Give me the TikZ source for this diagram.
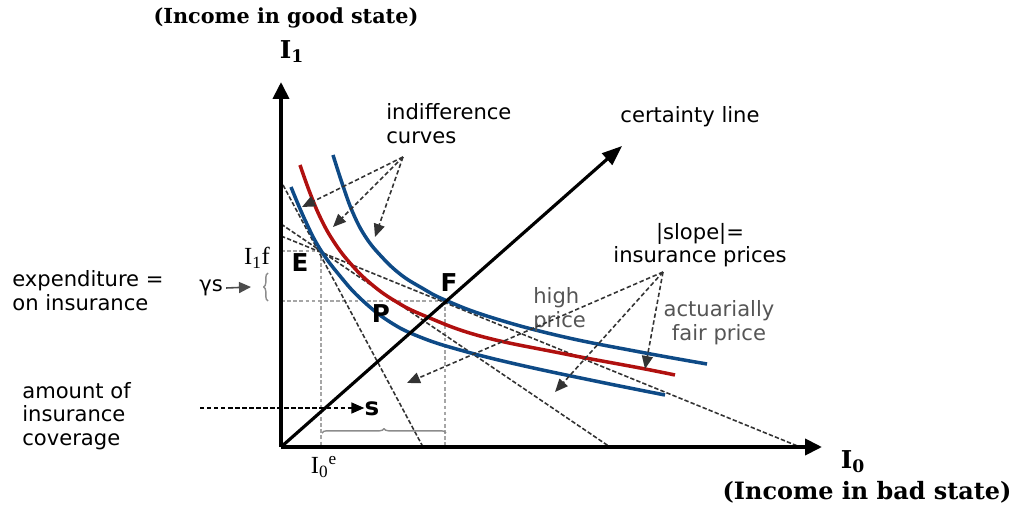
\documentclass[tikz,border=0pt]{standalone}
\usepackage{fontspec}
\setmainfont{DejaVu Sans}
\newfontfamily\slabfont{DejaVu Serif}
\newfontfamily\romanfont{Liberation Serif}
\usetikzlibrary{arrows.meta, decorations.pathreplacing}
\definecolor{cblue}{HTML}{0E4A86}
\definecolor{cred}{HTML}{B0100F}
\definecolor{cgrey}{HTML}{555555}
\definecolor{cline}{HTML}{333333}
\tikzset{
  every picture/.style={line join=round},
  axisline/.style={line width=2.2pt, -{Triangle[length=3.4mm, width=3.2mm]}},
  certline/.style={line width=1.8pt, -{Triangle[length=4mm, width=3mm]}},
  curve/.style={draw=#1, line width=2pt, smooth, tension=0.7},
  budget/.style={draw=cline, line width=0.9pt, dash pattern=on 2.5pt off 1.2pt},
  guide/.style={draw=black!35, line width=0.8pt, dash pattern=on 2pt off 1.5pt},
  pointer/.style={draw=cline, line width=0.9pt, dash pattern=on 2.5pt off 1.5pt, -{Triangle[length=2.6mm, width=2.2mm]}},
  annot/.style={font=\fontsize{12}{13.5}\selectfont, align=left, inner sep=0pt},
  greyannot/.style={annot, text=cgrey},
  ptlabel/.style={font=\bfseries\fontsize{14}{14}\selectfont, inner sep=0pt},
  axtitle/.style={font=\slabfont\bfseries\fontsize{#1}{#1}\selectfont, inner sep=0pt},
  bracket/.style={draw=black!45, line width=0.8pt, decorate, decoration={brace, amplitude=#1}},
}
\begin{document}
\begin{tikzpicture}[x=0.02cm, y=-0.02cm]
  \useasboundingbox (0,0) rectangle (1020,506);
  % key points
  \coordinate (O) at (281,447);
  \coordinate (ytop) at (281,82);
  \coordinate (xend) at (822,447);
  \coordinate (cend) at (622,146);
  \coordinate (E) at (321,251);
  \coordinate (F) at (445,301);

  % guide lines
  \draw[guide] (O |- E) -- (E);
  \draw[guide] (E) -- (E |- O);
  \draw[guide] (O |- F) -- (F);
  \draw[guide] (F) -- (F |- O);

  % budget lines
  \draw[budget] (283,185) -- (423,447);
  \draw[budget] (281,224) -- (610,447);
  \draw[budget] (281,236) -- (800,447);

  % indifference curves
  \draw[curve=cblue] plot coordinates {(291,187) (305,220) (320,249) (340,276) (362,300) (390,322) (420,337) (460,350) (520,365) (600,382) (665,395)};
  \draw[curve=cred] plot coordinates {(300,165) (310,193) (321,219) (334,242) (350,263) (370,283) (395,301) (425,316) (480,336) (560,353) (640,368) (675,375)};
  \draw[curve=cblue] plot coordinates {(333,155) (343,186) (353,213) (365,236) (380,255) (400,274) (422,288) (445,300) (490,317) (560,336) (640,352) (707,364)};

  % axes and certainty line
  \draw[axisline] (O) -- (ytop);
  \draw[axisline] (O) -- (xend);
  \draw[certline] (O) -- (cend);

  % axis titles
  \node[axtitle=11.8] (ytitle) at (286,18) {(Income in good state)};
  \node[font=\slabfont\bfseries\fontsize{14}{14}\selectfont, inner sep=0pt] (ylab) at (292,52) {I\textsubscript{1}};
  \node[font=\slabfont\bfseries\fontsize{14}{14}\selectfont, inner sep=0pt] (xlab) at (853,462) {I\textsubscript{0}};
  \node[axtitle=13.6] (xtitle) at (867,492) {(Income in bad state)};

  % point labels
  \node[ptlabel] (Elab) at (300,263) {E};
  \node[ptlabel] (Flab) at (449,283) {F};
  \node[ptlabel] (Plab) at (381,314) {P};
  \node[ptlabel] (slab) at (372,409) {s};
  \node[font=\romanfont\fontsize{14}{14}\selectfont, inner sep=0pt] (Ielab) at (324,467) {I\textsubscript{0}\textsuperscript{e}};
  \node[font=\romanfont\fontsize{14}{14}\selectfont, inner sep=0pt] (Iflab) at (257,258) {I\textsubscript{1}f};

  % annotations
  \node[annot, anchor=west] (icurves) at (386,124) {indifference\\curves};
  \node[annot] (certainty) at (690,117) {certainty line};
  \node[annot, align=center] (slope) at (700,245) {|slope|=\\insurance prices};
  \node[greyannot, anchor=west] (high) at (533,310) {high\\price};
  \node[greyannot, align=center] (fair) at (719,323) {actuarially\\fair price};
  \node[annot, anchor=west] (expend) at (12,291) {expenditure =\\on insurance};
  \node[annot] (gs) at (211,288) {γs};
  \node[annot, anchor=west] (cover) at (22,416) {amount of\\insurance\\coverage};

  % pointers from the indifference label
  \coordinate (icapex) at (403,157);
  \draw[pointer] (icapex) -- (302,207);
  \draw[pointer] (icapex) -- (333,227);
  \draw[pointer] (icapex) -- (375,237);

  % pointers from the price label
  \coordinate (prapex) at (663,272);
  \draw[pointer] (prapex) -- (407,383);
  \draw[pointer] (prapex) -- (555,392);
  \draw[pointer] (prapex) -- (645,369);

  % expenditure and coverage
  \coordinate (gsend) at (251,287);
  \draw[black!70, line width=0.9pt, -{Triangle[length=2.4mm, width=2.2mm]}] (gs.east) ++(3,0) -- (gsend);
  \draw[bracket=2.5pt] (268,301) -- (268,273);
  \coordinate (covstart) at (200,408);
  \draw[pointer, draw=black] (covstart) -- (slab.west |- covstart);
  \draw[bracket=2.5pt] (322,433) -- (446,433);
\end{tikzpicture}
\end{document}
